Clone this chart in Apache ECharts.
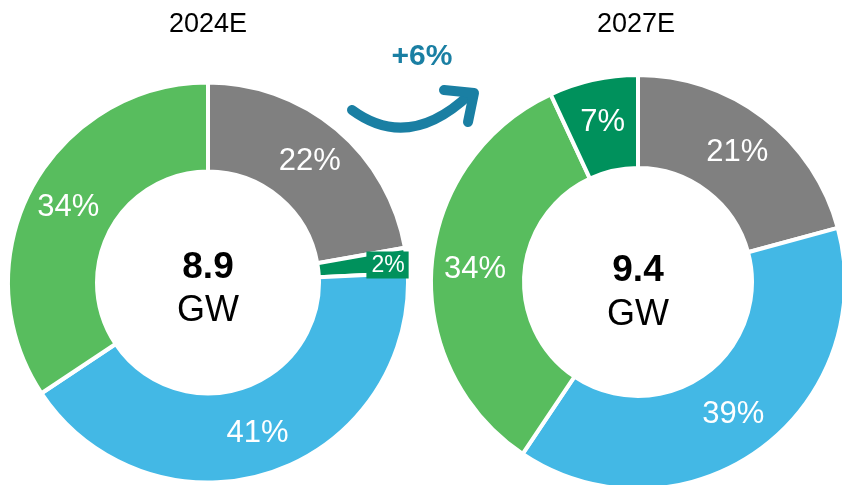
<!DOCTYPE html>
<html>
<head>
<meta charset="utf-8">
<script src="https://cdn.jsdelivr.net/npm/echarts@6/dist/echarts.min.js"></script>
<style>
  html, body { margin: 0; padding: 0; background: #fff; }
  #chart { width: 842px; height: 485px; }
</style>
</head>
<body>
<div id="chart"></div>
<script>
// data
var years = ['2024E', '2027E'];
var totals = ['8.9', '9.4'];
var unit = 'GW';
var growth = '+6%';
var segs2024 = ['S1', 'S4', 'S2', 'S3'];
var share2024 = [22, 2, 41, 34];
var segs2027 = ['S1', 'S2', 'S3', 'S4'];
var share2027 = [21, 39, 34, 7];

var segColor = { S1: '#808080', S2: '#43B8E5', S3: '#58BD5E', S4: '#00915C' };
var font = 'Liberation Sans';

var chart = echarts.init(document.getElementById('chart'));

var toData = function(names, vals) {
    return names.map(function(n, i) {
        return { name: n, value: vals[i], itemStyle: { color: segColor[n] } };
    });
};

// small slices get a boxed label pushed outward
var labelFmt = function(p) {
    if (p.value < 5) return '{gap|}{box|' + p.value + '%}';
    return p.value + '%';
};

var pie = function(center, radius, data) {
    return {
        type: 'pie',
        center: center,
        radius: radius,
        startAngle: 90,
        clockwise: true,
        avoidLabelOverlap: false,
        emphasis: { disabled: true },
        itemStyle: { borderColor: '#fff', borderWidth: 4 },
        label: {
            show: true,
            position: 'inside',
            color: '#fff',
            fontFamily: font,
            fontSize: 31,
            formatter: labelFmt,
            rich: {
                gap: { width: 44 },
                box: {
                    backgroundColor: '#00915C',
                    color: '#fff',
                    fontFamily: font,
                    fontSize: 23,
                    padding: [3, 4, 1, 5]
                }
            }
        },
        labelLine: { show: false },
        data: data
    };
};

var txt = function(x, y, s, f, col) {
    return { type: 'text', x: x, y: y, style: { text: s, font: f, fill: col || '#000', align: 'center', verticalAlign: 'middle' } };
};

chart.setOption({
    animation: false,
    backgroundColor: '#fff',
    series: [
        pie([208, 282.5], [111, 200], toData(segs2024, share2024)),
        pie([638, 282], [114, 207], toData(segs2027, share2027))
    ],
    graphic: [
        txt(208, 25, years[0], '27px ' + font),
        txt(636, 25, years[1], '27px ' + font),
        txt(208, 268, totals[0], 'bold 37px ' + font),
        txt(208, 311, unit, '36px ' + font),
        txt(638, 271, totals[1], 'bold 37px ' + font),
        txt(638, 315, unit, '36px ' + font),
        txt(422, 57, growth, 'bold 30px ' + font, '#1A7FA3'),
        {
            type: 'bezierCurve',
            shape: { x1: 352, y1: 110, cpx1: 409, cpy1: 152, x2: 470, y2: 94 },
            style: { stroke: '#1A7FA3', lineWidth: 10, lineCap: 'round', fill: null }
        },
        {
            type: 'polyline',
            shape: { points: [[444, 90], [474, 93], [468, 122]] },
            style: { stroke: '#1A7FA3', lineWidth: 10, lineCap: 'round', lineJoin: 'round', fill: null }
        }
    ]
});
</script>
</body>
</html>
